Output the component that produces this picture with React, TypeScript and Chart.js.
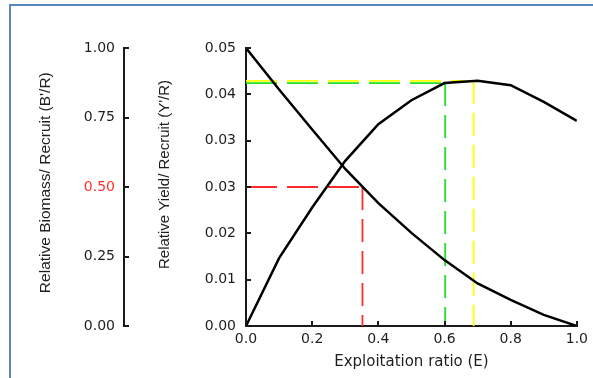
import React, { useEffect, useRef } from 'react';
import { Chart, registerables } from 'chart.js';

Chart.register(...registerables);

// Exploitation ratio (E)
const exploitation = [0, 0.1, 0.2, 0.3, 0.4, 0.5, 0.6, 0.7, 0.8, 0.9, 1.0];
// Relative biomass per recruit (B'/R), left axis 0..1
const biomassPerRecruit = [1.0, 0.851, 0.707, 0.565, 0.442, 0.335, 0.237, 0.153, 0.094, 0.04, 0.0];
// Relative yield per recruit (Y'/R), axis 0..0.05
const yieldPerRecruit = [0, 0.0122, 0.0213, 0.0297, 0.0363, 0.0406, 0.0437, 0.0441, 0.0433, 0.0403, 0.0369];

// Reference points
const e50 = 0.352;
const b50 = 0.5;
const e10 = 0.602;
const y10 = 0.0437;
const eMax = 0.688;
const yMax = 0.0441;

// Tick values and labels
const xTickValues = [0, 0.2, 0.4, 0.6, 0.8, 1.0];
const xTickLabels = ['0.0', '0.2', '0.4', '0.6', '0.8', '1.0'];
const biomassTickValues = [0, 0.25, 0.5, 0.75, 1.0];
const biomassTickLabels = ['0.00', '0.25', '0.50', '0.75', '1.00'];
const yieldTickValues = [0, 0.008333, 0.016667, 0.025, 0.033333, 0.041667, 0.05];
const yieldTickLabels = ['0.00', '0.01', '0.02', '0.03', '0.03', '0.04', '0.05'];

const AXIS_COLOR = '#1a1a1a';
const TEXT_COLOR = '#1e1e1e';
const TICK_FONT = { family: "'DejaVu Sans', sans-serif", size: 14 };
const H_DASH = [31, 10];
const V_DASH = [23, 9];

const inwardTicks = {
  id: 'inwardTicks',
  afterDraw(chart: any) {
    const ctx = chart.ctx;
    const { x, yB, yY } = chart.scales;
    ctx.save();
    ctx.strokeStyle = AXIS_COLOR;
    ctx.lineWidth = 2;
    ctx.beginPath();
    for (const t of yB.ticks) {
      const py = Math.round(yB.getPixelForValue(t.value));
      ctx.moveTo(yB.right - 1, py);
      ctx.lineTo(yB.right + 5, py);
    }
    for (const t of yY.ticks) {
      const py = Math.round(yY.getPixelForValue(t.value));
      ctx.moveTo(yY.right - 1, py);
      ctx.lineTo(yY.right + 5, py);
    }
    for (const t of x.ticks) {
      const px = Math.round(x.getPixelForValue(t.value));
      ctx.moveTo(px, x.top + 1);
      ctx.lineTo(px, x.top - 5);
    }
    ctx.stroke();
    ctx.restore();
  },
};

function refLine(label: string, axis: string, color: string, pts: { x: number; y: number }[], dash: number[]) {
  return {
    label,
    data: pts,
    yAxisID: axis,
    borderColor: color,
    borderWidth: 1.8,
    borderDash: dash,
    pointRadius: 0,
    tension: 0,
    order: 1,
  };
}

export default function App() {
  const canvasRef = useRef<HTMLCanvasElement | null>(null);

  useEffect(() => {
    const canvas = canvasRef.current;
    if (!canvas) return;

    const yieldCurve = exploitation.map((e, i) => ({ x: e, y: yieldPerRecruit[i] }));
    const biomassCurve = exploitation.map((e, i) => ({ x: e, y: biomassPerRecruit[i] }));

    const chart = new Chart(canvas, {
      type: 'line',
      data: {
        datasets: [
          {
            label: "Y'/R",
            data: yieldCurve,
            yAxisID: 'yY',
            borderColor: '#000',
            borderWidth: 2.5,
            pointRadius: 0,
            tension: 0,
            order: 0,
          },
          {
            label: "B'/R",
            data: biomassCurve,
            yAxisID: 'yB',
            borderColor: '#000',
            borderWidth: 2.5,
            pointRadius: 0,
            tension: 0,
            order: 0,
          },
          refLine('E50 h', 'yB', '#ff2a2a', [{ x: 0, y: b50 }, { x: e50, y: b50 }], H_DASH),
          refLine('E50 v', 'yB', '#ff2a2a', [{ x: e50, y: b50 }, { x: e50, y: 0 }], V_DASH),
          refLine('E10 h', 'yY', '#22e022', [{ x: 0, y: y10 }, { x: e10, y: y10 }], H_DASH),
          refLine('E10 v', 'yY', '#22e022', [{ x: e10, y: y10 }, { x: e10, y: 0 }], V_DASH),
          refLine('Emax h', 'yY', '#ffff00', [{ x: 0, y: yMax }, { x: eMax, y: yMax }], H_DASH),
          refLine('Emax v', 'yY', '#ffff00', [{ x: eMax, y: yMax }, { x: eMax, y: 0 }], V_DASH),
        ],
      },
      options: {
        responsive: false,
        animation: false,
        devicePixelRatio: 1,
        layout: { padding: { left: 30, right: 11, top: 48, bottom: 0 } },
        plugins: {
          legend: { display: false },
          tooltip: { enabled: false },
        },
        scales: {
          x: {
            type: 'linear',
            min: 0,
            max: 1,
            afterBuildTicks: (s: any) => {
              s.ticks = xTickValues.map((v) => ({ value: v }));
            },
            afterFit: (s: any) => {
              s.height = 52;
            },
            ticks: {
              autoSkip: false,
              maxRotation: 0,
              padding: 5,
              color: TEXT_COLOR,
              font: TICK_FONT,
              callback: (_v: any, i: number) => xTickLabels[i],
            },
            grid: { display: true, drawOnChartArea: false, drawTicks: false },
            border: { display: true, color: AXIS_COLOR, width: 2 },
            title: {
              display: true,
              text: 'Exploitation ratio (E)',
              color: TEXT_COLOR,
              font: { family: "'DejaVu Sans', sans-serif", size: 15 },
              padding: { top: 0, bottom: 7 },
            },
          },
          yB: {
            type: 'linear',
            position: 'left',
            weight: 2,
            min: 0,
            max: 1,
            afterBuildTicks: (s: any) => {
              s.ticks = biomassTickValues.map((v) => ({ value: v }));
            },
            afterFit: (s: any) => {
              s.width = 94;
            },
            ticks: {
              padding: 9,
              font: TICK_FONT,
              color: (c: any) => (c.tick && c.tick.value === 0.5 ? '#ff3030' : TEXT_COLOR),
              callback: (_v: any, i: number) => biomassTickLabels[i],
            },
            grid: { display: true, drawOnChartArea: false, drawTicks: false },
            border: { display: true, color: AXIS_COLOR, width: 2 },
            title: {
              display: true,
              text: "  Relative Biomass/ Recruit (B'/R)",
              color: TEXT_COLOR,
              font: { family: "'Liberation Sans', Arial, sans-serif", size: 15.5 },
              padding: { top: 6, bottom: 0 },
            },
          },
          yY: {
            type: 'linear',
            position: 'left',
            weight: 1,
            min: 0,
            max: 0.05,
            afterBuildTicks: (s: any) => {
              s.ticks = yieldTickValues.map((v) => ({ value: v }));
            },
            afterFit: (s: any) => {
              s.width = 122;
            },
            ticks: {
              padding: 10,
              font: TICK_FONT,
              color: TEXT_COLOR,
              callback: (_v: any, i: number) => yieldTickLabels[i],
            },
            grid: { display: true, drawOnChartArea: false, drawTicks: false },
            border: { display: true, color: AXIS_COLOR, width: 2 },
            title: {
              display: true,
              text: "      Relative Yield/ Recruit (Y'/R)",
              color: TEXT_COLOR,
              font: { family: "'Liberation Sans', Arial, sans-serif", size: 15 },
              padding: { top: 32, bottom: 0 },
            },
          },
        },
      },
      plugins: [inwardTicks],
    } as any);

    return () => chart.destroy();
  }, []);

  return (
    <div style={{ position: 'fixed', left: 0, top: 0, width: 593, height: 378, background: '#fff', overflow: 'hidden' }}>
      <div
        style={{
          position: 'absolute',
          left: 9,
          top: 4,
          width: 584,
          height: 374,
          boxSizing: 'border-box',
          borderTop: '2px solid #5a86c2',
          borderLeft: '2px solid #5a86c2',
        }}
      />
      <canvas
        ref={canvasRef}
        width={593}
        height={378}
        style={{ position: 'absolute', left: 0, top: 0, width: 593, height: 378 }}
      />
    </div>
  );
}
